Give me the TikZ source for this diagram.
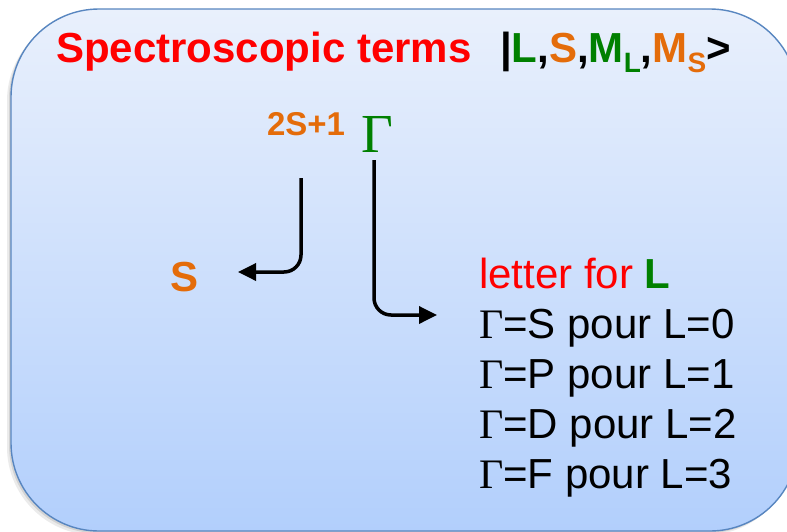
\documentclass[tikz,border=0pt]{standalone}
\usepackage{fontspec}
\setmainfont{Liberation Sans}
\newfontfamily\serifgreek{Liberation Serif}
\usetikzlibrary{arrows.meta,shadows,positioning}
\definecolor{tred}{RGB}{255,0,0}
\definecolor{tgreen}{RGB}{0,128,0}
\definecolor{torange}{RGB}{228,108,10}
\definecolor{boxtop}{RGB}{233,240,252}
\definecolor{boxbot}{RGB}{178,207,252}
\definecolor{boxline}{RGB}{88,134,192}
\newcommand{\fsz}[1]{\fontsize{#1}{#1}\selectfont}
\newcommand{\sub}[1]{\raisebox{-10pt}{\fsz{28}#1}}
\newcommand{\Gam}{{\serifgreek Γ}}
\tikzset{
  txt/.style={inner sep=0pt, outer sep=0pt, anchor=base west},
  arr/.style={line width=3.5pt, -{Triangle[length=18pt,width=17pt]}, rounded corners=17pt},
}
\begin{document}
\begin{tikzpicture}[x=1pt,y=-1pt]
\useasboundingbox (0,0) rectangle (787,531);
\fill[white] (0,0) rectangle (787,531);
% shadow
\fill[black,opacity=0.08,rounded corners=88pt] (7,13) rectangle (794,535);
\fill[black,opacity=0.10,rounded corners=88pt] (9,11) rectangle (796,533);
% box
\shade[top color=boxtop,bottom color=boxbot,rounded corners=88pt] (11,9) rectangle (798,531);
\draw[boxline,line width=1.4pt,rounded corners=88pt] (11,9) rectangle (798,531);

% title
\node[txt,text=tred,font=\fsz{42}\bfseries] (title) at (56,62) {Spectroscopic terms};
\node[txt,font=\fsz{42}\bfseries] (ket) at (500,62)
  {|\textcolor{tgreen}{L},\textcolor{torange}{S},\textcolor{tgreen}{M\sub{L}},\textcolor{torange}{M\sub{S}}>};

% term symbol
\node[txt,text=torange,font=\fsz{33}\bfseries] (mult) at (267,135) {2S+1};
\node[txt,text=tgreen,font=\fsz{55}\serifgreek] (gam) at (361,152) {Γ};

% left label
\node[txt,text=torange,font=\fsz{42}\bfseries] (sl) at (170,291) {S};

% right list
\node[txt,font=\fsz{42}] (l1) at (479,288) {\textcolor{tred}{letter for} \textcolor{tgreen}{\bfseries L}};
\node[txt,font=\fsz{42}] (l2) at (479,338) {\Gam=S pour L=0};
\node[txt,font=\fsz{42}] (l3) at (479,388) {\Gam=P pour L=1};
\node[txt,font=\fsz{42}] (l4) at (479,438) {\Gam=D pour L=2};
\node[txt,font=\fsz{42}] (l5) at (479,488) {\Gam=F pour L=3};

% arrows
\coordinate (s1) at (301,178);
\coordinate (t1) at (238,272);
\coordinate (s2) at (374,160);
\coordinate (t2) at (437,315);
\draw[arr] (s1) |- (t1);
\draw[arr] (s2) |- (t2);
\end{tikzpicture}
\end{document}
